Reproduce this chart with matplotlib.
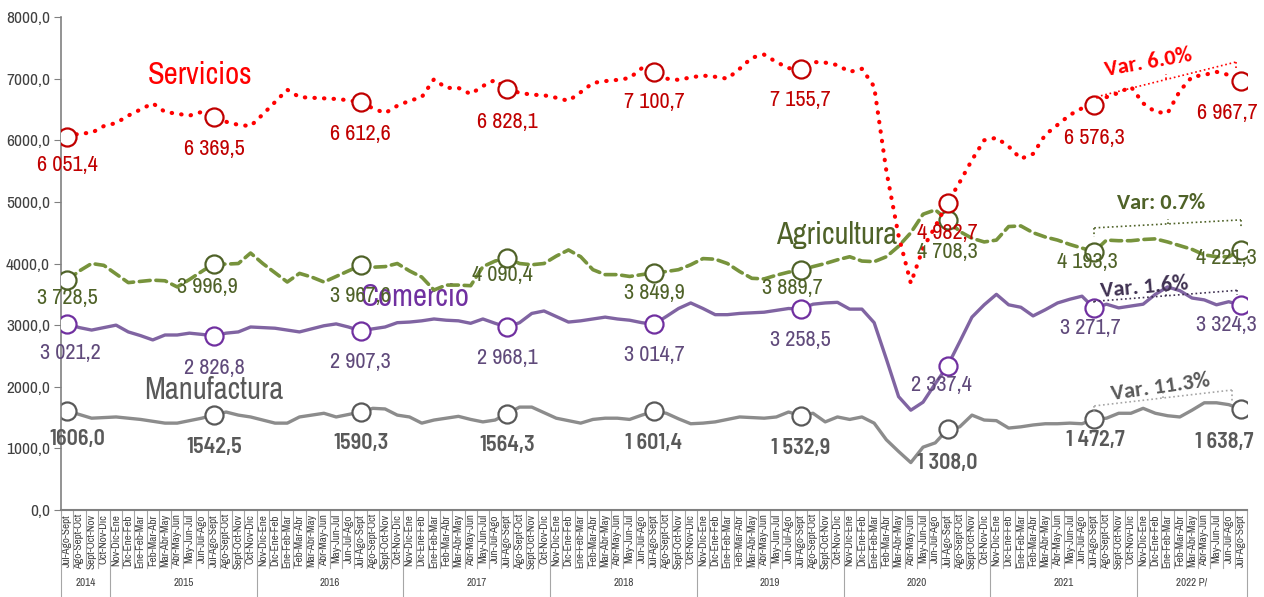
import matplotlib.pyplot as plt
import matplotlib.transforms as mtransforms

NARROW = ['Archivo Narrow', 'Liberation Sans Narrow', 'DejaVu Sans']
NARROW_BOLD = ['Barlow Semi Condensed', 'Archivo Narrow', 'DejaVu Sans']
VFONT = ['Carlito', 'Lato', 'DejaVu Sans']
plt.rcParams['font.family'] = NARROW

# rolling three-month periods (one year runs Nov-Dic-Ene ... Oct-Nov-Dic)
year_periods = ['Nov-Dic-Ene', 'Dic-Ene-Feb', 'Ene-Feb-Mar', 'Feb-Mar-Abr', 'Mar-Abr-May',
                'Abr-May-Jun', 'May-Jun-Jul', 'Jun-Jul-Ago', 'Jul-Ago-Sept', 'Ago-Sept-Oct',
                'Sept-Oct-Nov', 'Oct-Nov-Dic']
x_labels = (year_periods[8:] + year_periods * 8)[:97]
years = ['2014', '2015', '2016', '2017', '2018', '2019', '2020', '2021', '2022 P/']
year_sizes = [4, 12, 12, 12, 12, 12, 12, 12, 9]

servicios = [6051, 6110, 6120, 6230, 6280, 6400, 6500, 6600, 6460, 6430, 6400, 6460,
             6370, 6300, 6250, 6230, 6420, 6620, 6820, 6700, 6690, 6680, 6670, 6650,
             6613, 6520, 6440, 6560, 6640, 6700, 6990, 6850, 6850, 6750, 6880, 6980,
             6828, 6770, 6740, 6730, 6690, 6640, 6780, 6930, 6960, 6980, 7010, 7170,
             7101, 7000, 6980, 7020, 7050, 7030, 7000, 7160, 7340, 7390, 7270, 7170,
             7156, 7270, 7260, 7220, 7110, 7160, 6870, 5500, 4450, 3680, 4250, 4600,
             4983, 5320, 5680, 6000, 6040, 5900, 5700, 5780, 6090, 6250, 6410, 6520,
             6576, 6700, 6770, 6870, 6600, 6460, 6440, 6800, 7030, 7060, 7110, 7060,
             6968]
agricultura = [3729, 3880, 4000, 3970, 3830, 3690, 3710, 3730, 3720, 3620, 3740, 3870,
               3997, 3990, 4000, 4170, 4000, 3850, 3700, 3840, 3780, 3700, 3790, 3880,
               3968, 3940, 3950, 4000, 3880, 3780, 3570, 3650, 3650, 3640, 3950, 4040,
               4090, 4000, 3980, 4000, 4120, 4220, 4110, 3900, 3820, 3820, 3790, 3820,
               3850, 3870, 3900, 3980, 4080, 4070, 4000, 3870, 3760, 3750, 3810, 3860,
               3890, 3950, 4000, 4060, 4110, 4040, 4030, 4110, 4280, 4500, 4800, 4870,
               4708, 4520, 4410, 4350, 4380, 4600, 4610, 4500, 4430, 4380, 4310, 4250,
               4193, 4380, 4370, 4370, 4390, 4400, 4350, 4290, 4230, 4140, 4110, 4110,
               4221]
comercio = [3021, 2960, 2920, 2960, 3000, 2890, 2830, 2760, 2840, 2840, 2870, 2850,
            2827, 2870, 2890, 2970, 2960, 2950, 2920, 2890, 2940, 2990, 3020, 2970,
            2907, 2940, 2970, 3040, 3050, 3070, 3100, 3080, 3070, 3030, 3100, 3030,
            2968, 3040, 3190, 3230, 3140, 3050, 3070, 3100, 3130, 3100, 3080, 3040,
            3015, 3140, 3270, 3360, 3270, 3170, 3170, 3190, 3200, 3210, 3240, 3270,
            3259, 3340, 3360, 3370, 3260, 3260, 3040, 2450, 1840, 1620, 1750, 2050,
            2337, 2730, 3130, 3330, 3500, 3330, 3290, 3150, 3250, 3360, 3420, 3470,
            3272, 3340, 3280, 3310, 3340, 3500, 3620, 3560, 3440, 3410, 3330, 3380,
            3324]
manufactura = [1606, 1550, 1490, 1500, 1510, 1490, 1470, 1440, 1410, 1410, 1450, 1490,
               1543, 1590, 1540, 1510, 1460, 1410, 1410, 1510, 1540, 1570, 1510, 1550,
               1590, 1650, 1640, 1540, 1510, 1410, 1460, 1490, 1520, 1470, 1430, 1460,
               1564, 1670, 1670, 1580, 1490, 1450, 1410, 1470, 1490, 1490, 1470, 1540,
               1601, 1570, 1480, 1400, 1410, 1430, 1470, 1510, 1500, 1490, 1510, 1590,
               1533, 1570, 1430, 1510, 1470, 1510, 1410, 1140, 950, 770, 1020, 1090,
               1308, 1350, 1540, 1460, 1450, 1330, 1350, 1380, 1400, 1400, 1410, 1400,
               1473, 1490, 1570, 1570, 1650, 1570, 1530, 1510, 1620, 1740, 1740, 1710,
               1639]

# labels shown at each Jul-Ago-Sept
serv_lbl = ['6 051,4', '6 369,5', '6 612,6', '6 828,1', '7 100,7', '7 155,7', '4 982,7', '6 576,3', '6 967,7']
agri_lbl = ['3 728,5', '3 996,9', '3 967,6', '4 090,4', '3 849,9', '3 889,7', '4 708,3', '4 193,3', '4 221,3']
come_lbl = ['3 021,2', '2 826,8', '2 907,3', '2 968,1', '3 014,7', '3 258,5', '2 337,4', '3 271,7', '3 324,3']
manu_lbl = ['1606,0', '1542,5', '1590,3', '1564,3', '1 601,4', '1 532,9', '1 308,0', '1 472,7', '1 638,7']

x = list(range(len(servicios)))

fig = plt.figure(figsize=(12.64, 5.97), dpi=100)
ax = fig.add_axes([0.0483, 0.1457, 0.9383, 0.8258])

def draw(vals, color, edge, ls, lw, z):
    ax.plot(x, vals, color=color, linestyle=ls, linewidth=lw, zorder=z,
            dash_capstyle='round', solid_capstyle='round')
    ax.plot(x[::12], vals[::12], 'o', markersize=13, markerfacecolor='white',
            markeredgecolor=edge, markeredgewidth=1.6, zorder=z + 0.5)

draw(manufactura, '#8c8c8c', '#595959', '-', 2.4, 2)
draw(comercio, '#8064A2', '#7030A0', '-', 2.4, 3)
draw(agricultura, '#77933C', '#4F6228', (0, (3, 1.6)), 2.6, 4)
draw(servicios, '#FF0000', '#C00000', (0, (0.1, 2.2)), 3.0, 5)

def put_labels(vals, labels, color, offsets, bold=False):
    for k, lab in enumerate(labels):
        i = k * 12
        dx, dy = offsets[k]
        ax.annotate(lab, (i, vals[i]), xytext=(dx, dy), textcoords='offset pixels',
                    ha='center', va='center', fontsize=16, color=color,
                    family=NARROW_BOLD if bold else NARROW,
                    fontweight='semibold' if bold else 'normal', zorder=6)

put_labels(servicios, serv_lbl, '#C00000',
           [(0, -28), (0, -32), (0, -32), (0, -33), (0, -30), (0, -31), (0, -30), (0, -33), (-14, -32)])
put_labels(agricultura, agri_lbl, '#4F6228',
           [(0, -18), (-7, -23), (0, -31), (-5, -17), (0, -20), (-8, -18), (0, -32), (-7, -10), (-15, -8)])
put_labels(comercio, come_lbl, '#604A7B',
           [(3, -29), (0, -32), (0, -31), (0, -31), (0, -31), (0, -31), (-6, -19), (-4, -20), (-15, -20)])
put_labels(manufactura, manu_lbl, '#595959',
           [(10, -28), (0, -32), (0, -31), (0, -31), (0, -32), (0, -32), (0, -34), (1, -21), (-17, -33)],
           bold=True)

# series names
ax.text(10.9, 7062, 'Servicios', color='#FF0000', fontsize=22, ha='center', va='center')
ax.text(62.9, 4464, 'Agricultura', color='#4F6228', fontsize=22, ha='center', va='center')
ax.text(28.5, 3458, 'Comercio', color='#7030A0', fontsize=22, ha='center', va='center')
ax.text(12.0, 1948, 'Manufactura', color='#595959', fontsize=22, ha='center', va='center')

# variation brackets
def bracket(x0, y0, x1, y1, t0, t1, color):
    ax.plot([x0, x1], [y0, y1], color=color, linestyle=':', linewidth=1.2, zorder=6)
    ax.plot([x0, x0], [y0, y0 + t0], color=color, linestyle=':', linewidth=1.2, zorder=6)
    ax.plot([x1, x1], [y1, y1 + t1], color=color, linestyle=':', linewidth=1.2, zorder=6)
    xm, ym = (x0 + x1) / 2, (y0 + y1) / 2
    ax.plot([xm, xm], [ym, ym + 80], color=color, linestyle=':', linewidth=1.2, zorder=6)

bracket(84.2, 6705, 95.6, 7270, -60, -100, '#FF0000')
bracket(84.0, 4578, 96.0, 4708, -140, -110, '#4F6228')
bracket(84.0, 3386, 95.7, 3565, -60, -70, '#3F3151')
bracket(84.0, 1689, 95.3, 1948, -110, -190, '#A6A6A6')

ax.text(88.4, 7256, 'Var. 6.0%', color='#FF0000', fontsize=16, fontweight='bold',
        family=VFONT, ha='center', va='center', rotation=10)
ax.text(89.5, 4984, 'Var: 0.7%', color='#4F6228', fontsize=16, fontweight='bold',
        family=VFONT, ha='center', va='center')
ax.text(88.1, 3620, 'Var. 1.6%', color='#3F3151', fontsize=16, fontweight='bold',
        family=VFONT, ha='center', va='center', rotation=5)
ax.text(89.4, 1997, 'Var. 11.3%', color='#595959', fontsize=16, fontweight='bold',
        family=VFONT, ha='center', va='center', rotation=8)

# axes
ax.set_ylim(0, 8000)
ax.set_xlim(-0.5, 96.5)
ax.set_yticks(range(0, 8001, 1000))
ax.set_yticklabels([f'{v},0' for v in range(0, 8001, 1000)], fontsize=12.5, color='#404040')
ax.tick_params(axis='y', length=5, color='#808080', pad=3)
ax.set_xticks(x)
ax.set_xticklabels(x_labels, rotation=90, fontsize=8, color='#404040')
ax.tick_params(axis='x', length=0, pad=3)
for s in ['top', 'right']:
    ax.spines[s].set_visible(False)
ax.spines['left'].set_color('#808080')
ax.spines['bottom'].set_color('#808080')
ax.spines['left'].set_linewidth(1.2)
ax.spines['bottom'].set_linewidth(1.5)

trans = mtransforms.blended_transform_factory(ax.transData, ax.transAxes)
bounds = [-0.5]
for n in year_sizes:
    bounds.append(bounds[-1] + n)
for b in [i + 0.5 for i in range(-1, 97)]:
    if b in bounds:
        continue
    ax.plot([b, b], [0, -0.118], transform=trans, color='#A6A6A6', linewidth=0.8, clip_on=False)
for b in bounds:
    ax.plot([b, b], [0, -0.176], transform=trans, color='#A6A6A6', linewidth=0.8, clip_on=False)
for k, yr in enumerate(years):
    ax.text((bounds[k] + bounds[k + 1]) / 2, -0.148, yr, transform=trans, ha='center',
            va='center', fontsize=8, color='#404040')

fig.savefig('out.png', dpi=100)
